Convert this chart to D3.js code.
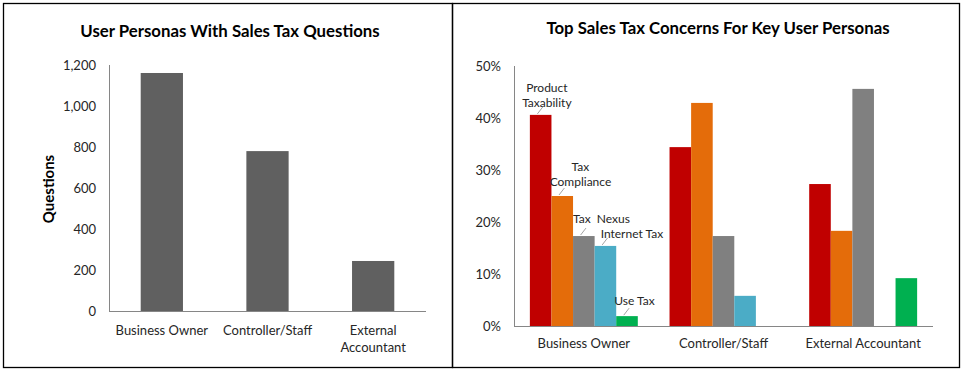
<!DOCTYPE html>
<html><head><meta charset="utf-8">
<script src="https://cdn.jsdelivr.net/npm/d3@7"></script>
<style>body{margin:0;background:#fff}svg{display:block;font-family:Lato,"Open Sans",sans-serif}</style>
</head><body><svg id="c" width="963" height="371"></svg>
<script>
// ---- data ----
const leftTitle = "User Personas With Sales Tax Questions";
const leftCategories = ["Business Owner", "Controller/Staff", "External Accountant"];
const leftCategoryLines = [["Business Owner"], ["Controller/Staff"], ["External", "Accountant"]];
const questionCounts = [1161, 780, 244];
const leftTicks = [0, 200, 400, 600, 800, 1000, 1200];
const leftAxisLabel = "Questions";

const rightTitle = "Top Sales Tax Concerns For Key User Personas";
const rightCategories = ["Business Owner", "Controller/Staff", "External Accountant"];
const concerns = ["Product Taxability", "Tax Compliance", "Tax Nexus", "Internet Tax", "Use Tax"];
const productTaxability = [40.6, 34.4, 27.3];
const taxCompliance = [25.0, 42.9, 18.3];
const taxNexus = [17.3, 17.3, 45.6];
const internetTax = [15.4, 5.8, 0];
const useTax = [1.9, 0, 9.2];
const rightTicks = [0, 10, 20, 30, 40, 50];
const concernLabelLines = [["Product", "Taxability"], ["Tax", "Compliance"], ["Tax  Nexus"], ["Internet Tax"], ["Use Tax"]];

// ---- styles ----
const concernColors = ["#C00000", "#E46C0A", "#808080", "#4BACC6", "#00B050"];
const barGray = "#606060";
const axisColor = "#868686";
const textColor = "#262626";
// label placement relative to its bar (first category): [anchor, dx from bar left, dy of last line baseline from bar top]
const labelPlacement = [
  {anchor:"middle", dx:17, dy:-8},
  {anchor:"middle", dx:29, dy:-10},
  {anchor:"start", dx:0, dy:-13},
  {anchor:"start", dx:6, dy:-8},
  {anchor:"start", dx:-2, dy:-11}
];

const svg = d3.select("#c");

// panel borders
svg.append("rect").attr("x",3.5).attr("y",3.5).attr("width",449).attr("height",364)
  .attr("fill","none").attr("stroke","#000").attr("stroke-width",1.3);
svg.append("rect").attr("x",452.5).attr("y",3.5).attr("width",507).attr("height",364)
  .attr("fill","none").attr("stroke","#000").attr("stroke-width",1.3);

// ===== Left chart =====
{
  const x = d3.scaleBand().domain(leftCategories).range([109, 426]).paddingInner(0.6).paddingOuter(0.3);
  const y = d3.scaleLinear().domain([0, 1200]).range([311, 65]);

  svg.append("text").attr("x",230).attr("y",37).attr("text-anchor","middle")
    .attr("font-weight","bold").attr("font-size",16.8).attr("fill","#000").text(leftTitle);

  const yAxis = svg.append("g").attr("transform","translate(109,0)")
    .call(d3.axisLeft(y).tickValues(leftTicks).tickSize(0).tickPadding(13).tickFormat(d3.format(",")));
  yAxis.select(".domain").attr("stroke",axisColor).attr("d","M0.5,65V311");
  yAxis.selectAll("text").attr("font-size",13).attr("fill",textColor).attr("font-family","Lato,sans-serif");

  svg.selectAll(".lbar").data(questionCounts).join("rect")
    .attr("x",(d,i)=>x(leftCategories[i])).attr("width",x.bandwidth())
    .attr("y",d=>y(d)).attr("height",d=>y(0)-y(d)).attr("fill",barGray);

  svg.append("line").attr("x1",109).attr("x2",426).attr("y1",311.5).attr("y2",311.5).attr("stroke",axisColor);

  leftCategoryLines.forEach((lines,i)=>{
    const cx = x(leftCategories[i]) + x.bandwidth()/2;
    lines.forEach((t,j)=>{
      svg.append("text").attr("x",cx).attr("y",335 + j*17).attr("text-anchor","middle")
        .attr("font-size",13).attr("fill",textColor).text(t);
    });
  });

  svg.append("text").attr("transform","translate(54,189) rotate(-90)").attr("text-anchor","middle")
    .attr("font-weight","bold").attr("font-size",15).attr("fill","#000").text(leftAxisLabel);
}

// ===== Right chart =====
{
  const seriesValues = [productTaxability, taxCompliance, taxNexus, internetTax, useTax];
  const x0 = d3.scaleBand().domain(rightCategories).range([514, 933]).padding(0);
  const x1 = d3.scaleBand().domain(concerns).range([0, x0.bandwidth()]).paddingInner(0).paddingOuter(0.735);
  const y = d3.scaleLinear().domain([0, 50]).range([326, 66]);

  svg.append("text").attr("x",718).attr("y",34).attr("text-anchor","middle")
    .attr("font-weight","bold").attr("font-size",16.8).attr("fill","#000").text(rightTitle);

  const yAxis = svg.append("g").attr("transform","translate(514,0)")
    .call(d3.axisLeft(y).tickValues(rightTicks).tickSize(0).tickPadding(13).tickFormat(d=>d+"%"));
  yAxis.select(".domain").attr("stroke",axisColor).attr("d","M0.5,66V326");
  yAxis.selectAll("text").attr("font-size",13).attr("fill",textColor).attr("font-family","Lato,sans-serif");

  const groups = svg.selectAll(".grp").data(rightCategories).join("g")
    .attr("transform",d=>`translate(${x0(d)},0)`);
  groups.selectAll("rect").data((c,ci)=>concerns.map((s,si)=>({s, si, v: seriesValues[si][ci]})))
    .join("rect")
    .attr("x",d=>x1(d.s)).attr("width",x1.bandwidth())
    .attr("y",d=>y(d.v)).attr("height",d=>y(0)-y(d.v))
    .attr("fill",d=>concernColors[d.si]);

  svg.append("line").attr("x1",514).attr("x2",933).attr("y1",326.5).attr("y2",326.5).attr("stroke",axisColor);

  rightCategories.forEach(c=>{
    svg.append("text").attr("x",x0(c)+x0.bandwidth()/2).attr("y",348).attr("text-anchor","middle")
      .attr("font-size",13).attr("fill",textColor).text(c);
  });

  // data labels on first category with leader lines
  const c0 = rightCategories[0];
  concerns.forEach((s,si)=>{
    const bx = x0(c0) + x1(s);
    const top = y(seriesValues[si][0]);
    const bw = x1.bandwidth();
    const p = labelPlacement[si];
    svg.append("line").attr("x1",bx+bw*0.35).attr("y1",top-1).attr("x2",bx+bw*0.6).attr("y2",top-8)
      .attr("stroke","#8c8c8c").attr("stroke-width",0.8);
    const lines = concernLabelLines[si];
    lines.forEach((t,j)=>{
      svg.append("text").attr("x",bx+p.dx).attr("y",top + p.dy - (lines.length-1-j)*15)
        .attr("text-anchor",p.anchor).attr("font-size",12).attr("fill",textColor)
        .attr("xml:space","preserve").style("white-space","pre").text(t);
    });
  });
}
</script></body></html>
